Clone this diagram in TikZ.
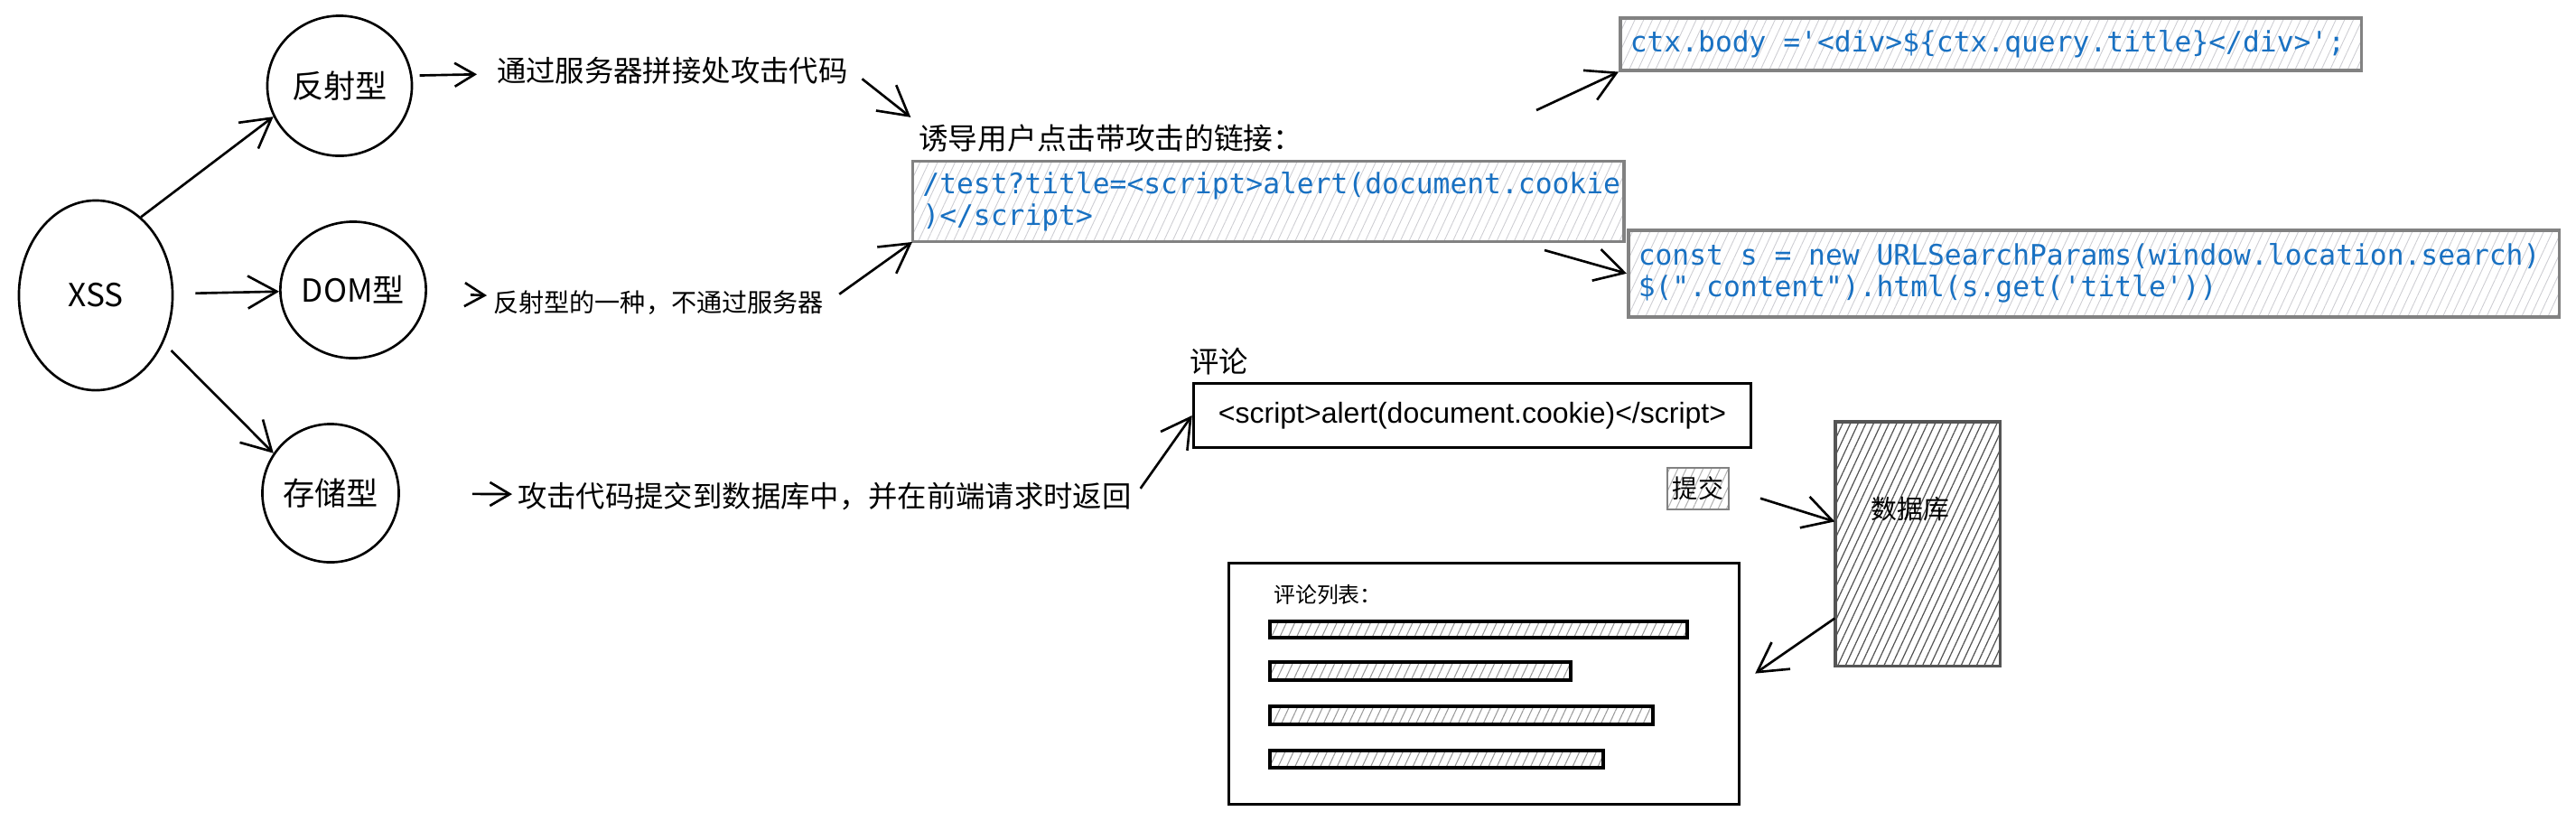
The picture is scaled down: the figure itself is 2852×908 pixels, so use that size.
\documentclass[tikz,border=0pt]{standalone}
\usepackage{fontspec}
\setmainfont{Noto Sans CJK SC}
\setmonofont{DejaVu Sans Mono}
\newfontfamily\htmlfont{Liberation Sans}
\usetikzlibrary{shapes.geometric, arrows.meta, patterns.meta}
\definecolor{codeblue}{RGB}{25,113,194}
\definecolor{boxgray}{RGB}{130,130,130}
\definecolor{hatchgray}{RGB}{205,205,210}
\definecolor{dbgray}{RGB}{85,85,85}
\newcommand{\fixspaces}{\spaceskip=0.602em\relax}
\tikzstyle{kind} = [ellipse, draw=black, line width=0.75pt, inner sep=0pt, font=\fontsize{10}{12}\selectfont]
\tikzstyle{note} = [inner sep=1pt, anchor=west, font=\fontsize{9.2}{11}\selectfont]
\tikzstyle{codebox} = [rectangle, draw=boxgray, line width=1pt, anchor=north west, inner xsep=0.11cm, align=left, text=codeblue, font=\ttfamily\fontsize{8.9}{10}\selectfont, execute at begin node=\fixspaces, pattern={Lines[angle=65,distance=2.5pt,line width=0.25pt]}, pattern color=hatchgray]
\tikzstyle{bar} = [draw=black, line width=0.9pt, pattern={Lines[angle=65,distance=2.4pt,line width=0.3pt]}, pattern color=gray!80]
\tikzstyle{arrow} = [line width=0.75pt, -{Straight Barb[length=3.2mm,width=3.6mm]}]
\tikzstyle{small arrow} = [line width=0.75pt, -{Straight Barb[length=2.2mm,width=2.6mm]}]

\begin{document}
\begin{tikzpicture}[x=0.01cm, y=-0.01cm]
    \useasboundingbox (0,0) rectangle (2852,908);
    % the three kinds of XSS
    \node (xss) [kind, minimum width=1.70cm, minimum height=2.10cm] at (106,327) {XSS};
    \node (fanshe) [kind, minimum width=1.60cm, minimum height=1.55cm] at (376,95) {反射型};
    \node (dom) [kind, minimum width=1.56cm, minimum height=1.51cm] at (391,321) {DOM型};
    \node (cunchu) [kind, minimum width=1.51cm, minimum height=1.53cm] at (366,546) {存储型};

    \node (serverjoin) [note] at (546,78) {通过服务器拼接处攻击代码};
    \node (domnote) [note, font=\fontsize{8}{10}\selectfont] at (542,335) {反射型的一种，不通过服务器};
    \node (storenote) [note] at (569,549) {攻击代码提交到数据库中，并在前端请求时返回};
    \node (lure) [note, font=\fontsize{9.3}{11}\selectfont] at (1013,153) {诱导用户点击带攻击的链接：};

    % code snippets
    \node (linkbox) [codebox, minimum width=7.87cm, minimum height=0.89cm, text width=7.65cm] at (1010,178) {/test?title=<script>alert(document.cookie\\)</script>};
    \node (ctxbox) [codebox, minimum width=8.20cm, minimum height=0.58cm, text width=7.98cm] at (1792,18) {ctx.body ='<div>\$\{ctx.query.title\}</div>';};
    \node (constbox) [codebox, minimum width=10.28cm, minimum height=0.96cm, text width=10.08cm] at (1801,253) {const s = new URLSearchParams(window.location.search)\\\$(".content").html(s.get('title'))};
    \coordinate (ctxtail) at (1701,122);
    \coordinate (consttail) at (1710,277);

    % stored comment
    \node (comlabel) [note] at (1313,400) {评论};
    \node (combox) [rectangle, draw=black, line width=0.9pt, minimum width=6.17cm, minimum height=0.71cm, font=\htmlfont\fontsize{9.1}{11}\selectfont] at (1630,460) {<script>alert(document.cookie)</script>};
    \node (submit) [rectangle, draw=boxgray, line width=0.8pt, inner sep=0pt, minimum width=0.68cm, minimum height=0.46cm, pattern={Lines[angle=65,distance=2.4pt,line width=0.3pt]}, pattern color=gray!60, font=\fontsize{8}{10}\selectfont] at (1880,541) {提交};
    \node (db) [rectangle, draw=dbgray, line width=0.9pt, minimum width=1.82cm, minimum height=2.70cm, pattern={Lines[angle=65,distance=2.2pt,line width=0.35pt]}, pattern color=dbgray] at (2123,602) {};
    \node (dblabel) [font=\fontsize{8.2}{10}\selectfont, inner sep=1pt] at (2115,564) {数据库};
    \node (listbox) [rectangle, draw=black, line width=0.9pt, minimum width=5.64cm, minimum height=2.67cm] at (1643,757) {};
    \node (listtitle) [note, font=\fontsize{6.8}{8}\selectfont] at (1406,658) {评论列表：};
    \draw [bar] (1406,688) rectangle (1868,706);
    \draw [bar] (1406,733) rectangle (1739,753);
    \draw [bar] (1406,782) rectangle (1830,802);
    \draw [bar] (1406,831) rectangle (1775,850);

    % connectors
    \draw [arrow] (xss.60) -- (fanshe.205);
    \draw [arrow, shorten <=0.24cm] (xss) -- (dom);
    \draw [arrow, shorten <=0.12cm] (xss.-35) -- (cunchu.145);
    \draw [small arrow, shorten <=0.08cm, shorten >=0.18cm] (fanshe.8) -- (serverjoin);
    \draw [small arrow, shorten <=0.48cm, shorten >=0.03cm] (dom) -- (domnote);
    \draw [small arrow, shorten <=0.8cm, shorten >=0.02cm] (cunchu) -- (storenote);
    \draw [arrow, shorten <=0.15cm, shorten >=0.06cm] (serverjoin.east) -- (lure.north west);
    \draw [arrow, shorten <=0.16cm] (domnote.east) -- (linkbox.south west);
    \draw [arrow] (ctxtail) -- (ctxbox.south west);
    \draw [arrow] (consttail) -- (constbox.west);
    \draw [arrow, shorten <=0.1cm] (storenote.east) -- (combox.west);
    \draw [arrow, shorten <=0.36cm] (submit.east) -- (db.165);
    \draw [arrow, shorten >=0.2cm] (db.222) -- (listbox.east);
\end{tikzpicture}
\end{document}
